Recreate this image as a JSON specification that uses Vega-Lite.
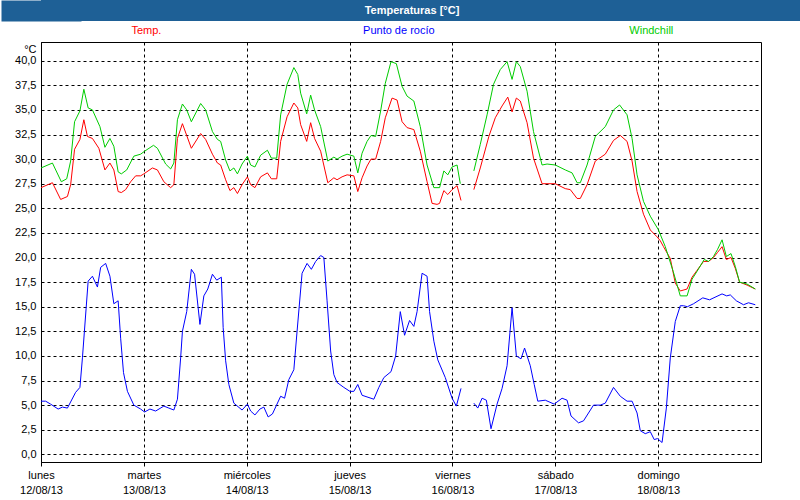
{
  "$schema": "https://vega.github.io/schema/vega-lite/v6.json",
  "padding": 0,
  "spacing": 0,
  "background": "white",
  "config": {
    "view": {"stroke": null},
    "font": "Liberation Sans",
    "concat": {"spacing": 0}
  },
  "vconcat": [
    {
      "width": 760,
      "height": 21,
      "view": {"fill": "#1e6096", "stroke": null},
      "data": {"values": [{"txt": "Temperaturas [°C]"}]},
      "mark": {"type": "text", "color": "white", "font": "Liberation Sans", "fontWeight": "bold", "fontSize": 11, "dx": -9},
      "encoding": {
        "text": {"field": "txt"},
        "y": {"datum": 0, "type": "quantitative", "scale": {"domain": [-1, 1]},
              "axis": {"title": null, "labels": false, "ticks": false, "grid": false, "domainColor": "#1e6096", "domainWidth": 80, "domainCap": "butt", "minExtent": 40, "maxExtent": 40}}
      }
    },
    {
      "width": 720,
      "height": 20,
      "data": {"values": [
        {"s": "T", "label": "Temp."},
        {"s": "R", "label": "Punto de rocío"},
        {"s": "W", "label": "Windchill"}
      ]},
      "mark": {"type": "text", "font": "Liberation Sans", "fontSize": 11},
      "encoding": {
        "x": {"field": "s", "type": "nominal", "sort": ["T", "R", "W"], "scale": {"type": "point", "padding": 0.426, "align": 0.49}, "axis": null},
        "text": {"field": "label"},
        "color": {"field": "s", "type": "nominal", "scale": {"domain": ["T", "R", "W"], "range": ["#ff0000", "#0000ff", "#00cc00"]}, "legend": null}
      }
    },
    {
      "width": 720,
      "height": 420,
      "view": {"stroke": "black", "strokeWidth": 1, "fill": "white"},
      "data": {"values": [
        {"t":"2013-08-12T00:00","s":"T","v":27.1},{"t":"2013-08-12T02:40","s":"T","v":27.6},{"t":"2013-08-12T04:35","s":"T","v":25.9},{"t":"2013-08-12T06:10","s":"T","v":26.2},{"t":"2013-08-12T06:55","s":"T","v":27.4},{"t":"2013-08-12T07:50","s":"T","v":31.0},{"t":"2013-08-12T09:05","s":"T","v":32.0},{"t":"2013-08-12T10:00","s":"T","v":34.0},{"t":"2013-08-12T10:50","s":"T","v":32.3},{"t":"2013-08-12T12:00","s":"T","v":32.1},{"t":"2013-08-12T13:30","s":"T","v":31.1},{"t":"2013-08-12T14:55","s":"T","v":28.9},{"t":"2013-08-12T16:05","s":"T","v":29.6},{"t":"2013-08-12T17:00","s":"T","v":28.9},{"t":"2013-08-12T18:00","s":"T","v":26.7},{"t":"2013-08-12T18:45","s":"T","v":26.6},{"t":"2013-08-12T19:45","s":"T","v":26.9},{"t":"2013-08-12T20:55","s":"T","v":27.7},{"t":"2013-08-12T22:05","s":"T","v":28.3},{"t":"2013-08-12T23:15","s":"T","v":28.3},
        {"t":"2013-08-13T00:00","s":"T","v":28.5},{"t":"2013-08-13T02:00","s":"T","v":29.1},{"t":"2013-08-13T03:10","s":"T","v":28.9},{"t":"2013-08-13T04:40","s":"T","v":27.7},{"t":"2013-08-13T06:15","s":"T","v":27.1},{"t":"2013-08-13T07:00","s":"T","v":27.4},{"t":"2013-08-13T07:50","s":"T","v":32.1},{"t":"2013-08-13T09:00","s":"T","v":33.6},{"t":"2013-08-13T11:05","s":"T","v":31.1},{"t":"2013-08-13T13:15","s":"T","v":32.6},{"t":"2013-08-13T14:25","s":"T","v":32.0},{"t":"2013-08-13T16:00","s":"T","v":30.5},{"t":"2013-08-13T17:10","s":"T","v":29.6},{"t":"2013-08-13T17:55","s":"T","v":29.4},{"t":"2013-08-13T19:05","s":"T","v":27.9},{"t":"2013-08-13T20:05","s":"T","v":26.8},{"t":"2013-08-13T21:00","s":"T","v":27.1},{"t":"2013-08-13T21:50","s":"T","v":26.5},{"t":"2013-08-13T22:55","s":"T","v":27.4},
        {"t":"2013-08-14T00:10","s":"T","v":28.2},{"t":"2013-08-14T00:55","s":"T","v":27.4},{"t":"2013-08-14T01:55","s":"T","v":27.1},{"t":"2013-08-14T03:15","s":"T","v":28.2},{"t":"2013-08-14T04:50","s":"T","v":28.6},{"t":"2013-08-14T05:45","s":"T","v":28.0},{"t":"2013-08-14T07:00","s":"T","v":28.0},{"t":"2013-08-14T07:55","s":"T","v":31.8},{"t":"2013-08-14T09:25","s":"T","v":34.3},{"t":"2013-08-14T11:00","s":"T","v":35.7},{"t":"2013-08-14T11:55","s":"T","v":35.2},{"t":"2013-08-14T12:35","s":"T","v":33.5},{"t":"2013-08-14T14:00","s":"T","v":31.8},{"t":"2013-08-14T14:55","s":"T","v":33.7},{"t":"2013-08-14T15:50","s":"T","v":32.1},{"t":"2013-08-14T17:15","s":"T","v":30.8},{"t":"2013-08-14T18:55","s":"T","v":27.6},{"t":"2013-08-14T20:20","s":"T","v":28.1},{"t":"2013-08-14T21:05","s":"T","v":27.9},{"t":"2013-08-14T22:15","s":"T","v":28.2},{"t":"2013-08-14T23:25","s":"T","v":28.4},
        {"t":"2013-08-15T01:00","s":"T","v":28.3},{"t":"2013-08-15T01:55","s":"T","v":26.7},{"t":"2013-08-15T02:55","s":"T","v":28.1},{"t":"2013-08-15T04:05","s":"T","v":29.3},{"t":"2013-08-15T05:00","s":"T","v":30.0},{"t":"2013-08-15T06:05","s":"T","v":30.0},{"t":"2013-08-15T07:15","s":"T","v":31.8},{"t":"2013-08-15T08:20","s":"T","v":34.2},{"t":"2013-08-15T09:55","s":"T","v":36.2},{"t":"2013-08-15T11:05","s":"T","v":36.0},{"t":"2013-08-15T12:15","s":"T","v":33.8},{"t":"2013-08-15T13:25","s":"T","v":33.2},{"t":"2013-08-15T15:00","s":"T","v":33.0},{"t":"2013-08-15T16:30","s":"T","v":30.8},{"t":"2013-08-15T18:05","s":"T","v":27.7},{"t":"2013-08-15T19:15","s":"T","v":25.5},{"t":"2013-08-15T20:25","s":"T","v":25.4},{"t":"2013-08-15T21:00","s":"T","v":25.5},{"t":"2013-08-15T22:00","s":"T","v":26.8},{"t":"2013-08-15T22:55","s":"T","v":26.4},{"t":"2013-08-15T23:55","s":"T","v":26.9},
        {"t":"2013-08-16T01:05","s":"T","v":27.3},{"t":"2013-08-16T02:00","s":"T","v":25.8},{"t":"2013-08-16T03:30","s":"T","v":null},{"t":"2013-08-16T05:00","s":"T","v":26.9},{"t":"2013-08-16T06:30","s":"T","v":29.1},{"t":"2013-08-16T08:30","s":"T","v":32.3},{"t":"2013-08-16T10:00","s":"T","v":34.2},{"t":"2013-08-16T11:35","s":"T","v":35.4},{"t":"2013-08-16T12:55","s":"T","v":36.3},{"t":"2013-08-16T13:55","s":"T","v":34.8},{"t":"2013-08-16T14:55","s":"T","v":36.2},{"t":"2013-08-16T15:50","s":"T","v":35.9},{"t":"2013-08-16T17:25","s":"T","v":33.7},{"t":"2013-08-16T18:55","s":"T","v":30.1},{"t":"2013-08-16T20:55","s":"T","v":27.5},
        {"t":"2013-08-17T00:00","s":"T","v":27.5},{"t":"2013-08-17T02:20","s":"T","v":27.0},{"t":"2013-08-17T03:30","s":"T","v":26.9},{"t":"2013-08-17T05:05","s":"T","v":26.0},{"t":"2013-08-17T05:50","s":"T","v":26.0},{"t":"2013-08-17T07:25","s":"T","v":27.4},{"t":"2013-08-17T09:20","s":"T","v":29.8},{"t":"2013-08-17T11:40","s":"T","v":30.5},{"t":"2013-08-17T13:35","s":"T","v":31.9},{"t":"2013-08-17T15:10","s":"T","v":32.4},{"t":"2013-08-17T16:45","s":"T","v":31.8},{"t":"2013-08-17T17:55","s":"T","v":29.8},{"t":"2013-08-17T19:05","s":"T","v":26.7},{"t":"2013-08-17T20:35","s":"T","v":24.4},{"t":"2013-08-17T22:10","s":"T","v":22.8},{"t":"2013-08-17T23:45","s":"T","v":22.1},
        {"t":"2013-08-18T00:30","s":"T","v":21.7},{"t":"2013-08-18T01:15","s":"T","v":21.1},{"t":"2013-08-18T02:50","s":"T","v":19.9},{"t":"2013-08-18T04:00","s":"T","v":17.4},{"t":"2013-08-18T05:10","s":"T","v":16.6},{"t":"2013-08-18T06:45","s":"T","v":16.8},{"t":"2013-08-18T07:55","s":"T","v":18.0},{"t":"2013-08-18T09:05","s":"T","v":18.7},{"t":"2013-08-18T10:35","s":"T","v":19.6},{"t":"2013-08-18T11:45","s":"T","v":19.6},{"t":"2013-08-18T12:55","s":"T","v":20.0},{"t":"2013-08-18T13:50","s":"T","v":20.5},{"t":"2013-08-18T14:55","s":"T","v":21.1},{"t":"2013-08-18T15:55","s":"T","v":19.8},{"t":"2013-08-18T17:00","s":"T","v":20.0},{"t":"2013-08-18T18:00","s":"T","v":18.9},{"t":"2013-08-18T19:00","s":"T","v":17.5},{"t":"2013-08-18T20:45","s":"T","v":17.2},{"t":"2013-08-18T22:40","s":"T","v":16.8},

        {"t":"2013-08-12T00:00","s":"W","v":29.1},{"t":"2013-08-12T02:40","s":"W","v":29.6},{"t":"2013-08-12T04:45","s":"W","v":27.7},{"t":"2013-08-12T06:00","s":"W","v":28.0},{"t":"2013-08-12T06:55","s":"W","v":29.8},{"t":"2013-08-12T07:50","s":"W","v":33.8},{"t":"2013-08-12T09:05","s":"W","v":34.9},{"t":"2013-08-12T10:00","s":"W","v":37.1},{"t":"2013-08-12T11:00","s":"W","v":35.2},{"t":"2013-08-12T12:00","s":"W","v":35.0},{"t":"2013-08-12T13:45","s":"W","v":33.3},{"t":"2013-08-12T14:55","s":"W","v":31.2},{"t":"2013-08-12T16:05","s":"W","v":32.1},{"t":"2013-08-12T17:00","s":"W","v":31.3},{"t":"2013-08-12T18:00","s":"W","v":28.7},{"t":"2013-08-12T18:45","s":"W","v":28.5},{"t":"2013-08-12T20:00","s":"W","v":28.9},{"t":"2013-08-12T21:40","s":"W","v":30.3},{"t":"2013-08-12T23:15","s":"W","v":30.5},
        {"t":"2013-08-13T00:10","s":"W","v":30.8},{"t":"2013-08-13T02:15","s":"W","v":31.4},{"t":"2013-08-13T03:10","s":"W","v":31.1},{"t":"2013-08-13T05:05","s":"W","v":29.5},{"t":"2013-08-13T06:15","s":"W","v":29.0},{"t":"2013-08-13T07:00","s":"W","v":29.6},{"t":"2013-08-13T07:50","s":"W","v":34.0},{"t":"2013-08-13T09:00","s":"W","v":35.6},{"t":"2013-08-13T10:00","s":"W","v":35.0},{"t":"2013-08-13T11:05","s":"W","v":33.8},{"t":"2013-08-13T13:15","s":"W","v":35.65},{"t":"2013-08-13T14:25","s":"W","v":35.0},{"t":"2013-08-13T16:00","s":"W","v":32.8},{"t":"2013-08-13T17:10","s":"W","v":32.0},{"t":"2013-08-13T17:55","s":"W","v":31.8},{"t":"2013-08-13T19:05","s":"W","v":29.9},{"t":"2013-08-13T20:05","s":"W","v":28.8},{"t":"2013-08-13T21:00","s":"W","v":29.1},{"t":"2013-08-13T21:50","s":"W","v":28.5},{"t":"2013-08-13T22:55","s":"W","v":29.5},
        {"t":"2013-08-14T00:10","s":"W","v":30.3},{"t":"2013-08-14T00:55","s":"W","v":29.4},{"t":"2013-08-14T01:55","s":"W","v":29.2},{"t":"2013-08-14T03:15","s":"W","v":30.4},{"t":"2013-08-14T04:50","s":"W","v":30.9},{"t":"2013-08-14T05:45","s":"W","v":30.1},{"t":"2013-08-14T07:00","s":"W","v":30.1},{"t":"2013-08-14T07:55","s":"W","v":34.5},{"t":"2013-08-14T09:25","s":"W","v":37.6},{"t":"2013-08-14T11:00","s":"W","v":39.3},{"t":"2013-08-14T11:55","s":"W","v":38.6},{"t":"2013-08-14T12:35","s":"W","v":36.7},{"t":"2013-08-14T14:00","s":"W","v":34.6},{"t":"2013-08-14T14:55","s":"W","v":36.5},{"t":"2013-08-14T15:50","s":"W","v":35.0},{"t":"2013-08-14T17:15","s":"W","v":33.3},{"t":"2013-08-14T18:55","s":"W","v":29.8},{"t":"2013-08-14T20:20","s":"W","v":30.2},{"t":"2013-08-14T21:05","s":"W","v":30.0},{"t":"2013-08-14T22:15","s":"W","v":30.3},{"t":"2013-08-14T23:25","s":"W","v":30.5},
        {"t":"2013-08-15T01:00","s":"W","v":30.3},{"t":"2013-08-15T01:55","s":"W","v":28.6},{"t":"2013-08-15T02:55","s":"W","v":30.6},{"t":"2013-08-15T04:05","s":"W","v":31.8},{"t":"2013-08-15T05:00","s":"W","v":32.4},{"t":"2013-08-15T06:05","s":"W","v":32.3},{"t":"2013-08-15T07:15","s":"W","v":34.9},{"t":"2013-08-15T08:20","s":"W","v":37.7},{"t":"2013-08-15T09:40","s":"W","v":39.9},{"t":"2013-08-15T10:55","s":"W","v":39.7},{"t":"2013-08-15T12:15","s":"W","v":37.4},{"t":"2013-08-15T13:25","s":"W","v":36.4},{"t":"2013-08-15T15:00","s":"W","v":35.9},{"t":"2013-08-15T16:30","s":"W","v":33.3},{"t":"2013-08-15T18:05","s":"W","v":29.4},{"t":"2013-08-15T19:40","s":"W","v":27.1},{"t":"2013-08-15T21:00","s":"W","v":27.1},{"t":"2013-08-15T22:00","s":"W","v":28.8},{"t":"2013-08-15T22:55","s":"W","v":28.4},{"t":"2013-08-15T23:55","s":"W","v":29.2},
        {"t":"2013-08-16T01:05","s":"W","v":29.4},{"t":"2013-08-16T01:50","s":"W","v":27.5},{"t":"2013-08-16T03:30","s":"W","v":null},{"t":"2013-08-16T05:00","s":"W","v":28.8},{"t":"2013-08-16T06:30","s":"W","v":31.5},{"t":"2013-08-16T08:05","s":"W","v":34.5},{"t":"2013-08-16T09:35","s":"W","v":37.6},{"t":"2013-08-16T11:10","s":"W","v":39.1},{"t":"2013-08-16T12:45","s":"W","v":39.9},{"t":"2013-08-16T13:55","s":"W","v":38.1},{"t":"2013-08-16T14:55","s":"W","v":39.9},{"t":"2013-08-16T15:50","s":"W","v":39.4},{"t":"2013-08-16T17:25","s":"W","v":36.9},{"t":"2013-08-16T18:55","s":"W","v":32.8},{"t":"2013-08-16T20:55","s":"W","v":29.4},{"t":"2013-08-16T22:05","s":"W","v":29.5},
        {"t":"2013-08-17T00:00","s":"W","v":29.4},{"t":"2013-08-17T02:20","s":"W","v":28.9},{"t":"2013-08-17T03:55","s":"W","v":28.6},{"t":"2013-08-17T05:05","s":"W","v":27.6},{"t":"2013-08-17T05:50","s":"W","v":27.6},{"t":"2013-08-17T07:25","s":"W","v":29.4},{"t":"2013-08-17T09:20","s":"W","v":32.3},{"t":"2013-08-17T11:40","s":"W","v":33.3},{"t":"2013-08-17T13:35","s":"W","v":35.0},{"t":"2013-08-17T15:00","s":"W","v":35.5},{"t":"2013-08-17T16:45","s":"W","v":34.5},{"t":"2013-08-17T17:55","s":"W","v":32.1},{"t":"2013-08-17T19:05","s":"W","v":28.4},{"t":"2013-08-17T20:35","s":"W","v":25.7},{"t":"2013-08-17T22:10","s":"W","v":24.2},
        {"t":"2013-08-18T00:05","s":"W","v":22.8},{"t":"2013-08-18T01:40","s":"W","v":21.1},{"t":"2013-08-18T03:30","s":"W","v":18.6},{"t":"2013-08-18T05:10","s":"W","v":16.1},{"t":"2013-08-18T06:45","s":"W","v":16.1},{"t":"2013-08-18T07:55","s":"W","v":17.8},{"t":"2013-08-18T09:05","s":"W","v":18.6},{"t":"2013-08-18T10:45","s":"W","v":19.8},{"t":"2013-08-18T11:45","s":"W","v":19.6},{"t":"2013-08-18T12:55","s":"W","v":20.1},{"t":"2013-08-18T13:50","s":"W","v":20.8},{"t":"2013-08-18T14:55","s":"W","v":21.8},{"t":"2013-08-18T15:55","s":"W","v":20.1},{"t":"2013-08-18T17:00","s":"W","v":20.4},{"t":"2013-08-18T18:00","s":"W","v":19.1},{"t":"2013-08-18T19:00","s":"W","v":17.5},{"t":"2013-08-18T20:45","s":"W","v":17.3},{"t":"2013-08-18T22:40","s":"W","v":16.8},

        {"t":"2013-08-12T00:00","s":"R","v":5.4},{"t":"2013-08-12T01:05","s":"R","v":5.4},{"t":"2013-08-12T02:15","s":"R","v":5.1},{"t":"2013-08-12T04:00","s":"R","v":4.6},{"t":"2013-08-12T05:00","s":"R","v":4.8},{"t":"2013-08-12T06:10","s":"R","v":4.7},{"t":"2013-08-12T08:05","s":"R","v":6.3},{"t":"2013-08-12T09:05","s":"R","v":6.8},{"t":"2013-08-12T09:40","s":"R","v":9.8},{"t":"2013-08-12T11:00","s":"R","v":17.6},{"t":"2013-08-12T12:00","s":"R","v":18.1},{"t":"2013-08-12T13:10","s":"R","v":17.0},{"t":"2013-08-12T13:55","s":"R","v":19.0},{"t":"2013-08-12T15:05","s":"R","v":19.4},{"t":"2013-08-12T16:05","s":"R","v":18.1},{"t":"2013-08-12T17:00","s":"R","v":15.3},{"t":"2013-08-12T18:00","s":"R","v":15.6},{"t":"2013-08-12T18:35","s":"R","v":11.8},{"t":"2013-08-12T19:15","s":"R","v":8.3},{"t":"2013-08-12T20:10","s":"R","v":6.4},{"t":"2013-08-12T21:40","s":"R","v":5.0},{"t":"2013-08-12T23:15","s":"R","v":4.6},
        {"t":"2013-08-13T00:10","s":"R","v":4.3},{"t":"2013-08-13T01:25","s":"R","v":4.6},{"t":"2013-08-13T02:45","s":"R","v":4.4},{"t":"2013-08-13T04:40","s":"R","v":4.9},{"t":"2013-08-13T05:50","s":"R","v":4.7},{"t":"2013-08-13T07:00","s":"R","v":4.5},{"t":"2013-08-13T07:50","s":"R","v":5.6},{"t":"2013-08-13T08:35","s":"R","v":9.8},{"t":"2013-08-13T09:00","s":"R","v":12.5},{"t":"2013-08-13T10:00","s":"R","v":14.5},{"t":"2013-08-13T11:05","s":"R","v":18.8},{"t":"2013-08-13T11:50","s":"R","v":18.3},{"t":"2013-08-13T13:05","s":"R","v":13.2},{"t":"2013-08-13T14:00","s":"R","v":16.1},{"t":"2013-08-13T14:55","s":"R","v":16.8},{"t":"2013-08-13T16:00","s":"R","v":18.3},{"t":"2013-08-13T17:00","s":"R","v":17.7},{"t":"2013-08-13T18:05","s":"R","v":18.0},{"t":"2013-08-13T18:30","s":"R","v":12.9},{"t":"2013-08-13T19:05","s":"R","v":9.5},{"t":"2013-08-13T19:50","s":"R","v":7.1},{"t":"2013-08-13T21:00","s":"R","v":5.2},{"t":"2013-08-13T22:55","s":"R","v":4.5},
        {"t":"2013-08-14T00:10","s":"R","v":5.1},{"t":"2013-08-14T00:55","s":"R","v":4.4},{"t":"2013-08-14T01:55","s":"R","v":4.0},{"t":"2013-08-14T03:05","s":"R","v":4.6},{"t":"2013-08-14T04:00","s":"R","v":4.8},{"t":"2013-08-14T05:00","s":"R","v":3.8},{"t":"2013-08-14T06:00","s":"R","v":4.1},{"t":"2013-08-14T07:55","s":"R","v":5.9},{"t":"2013-08-14T08:50","s":"R","v":5.7},{"t":"2013-08-14T09:50","s":"R","v":7.6},{"t":"2013-08-14T11:00","s":"R","v":8.6},{"t":"2013-08-14T11:45","s":"R","v":12.5},{"t":"2013-08-14T12:55","s":"R","v":18.4},{"t":"2013-08-14T14:05","s":"R","v":19.4},{"t":"2013-08-14T15:05","s":"R","v":18.8},{"t":"2013-08-14T16:05","s":"R","v":19.6},{"t":"2013-08-14T17:15","s":"R","v":20.2},{"t":"2013-08-14T18:00","s":"R","v":20.0},{"t":"2013-08-14T18:45","s":"R","v":15.6},{"t":"2013-08-14T19:35","s":"R","v":10.5},{"t":"2013-08-14T20:20","s":"R","v":8.1},{"t":"2013-08-14T21:05","s":"R","v":7.3},{"t":"2013-08-14T22:40","s":"R","v":6.8},
        {"t":"2013-08-15T00:05","s":"R","v":6.4},{"t":"2013-08-15T01:00","s":"R","v":6.4},{"t":"2013-08-15T01:55","s":"R","v":7.1},{"t":"2013-08-15T02:55","s":"R","v":6.0},{"t":"2013-08-15T05:40","s":"R","v":5.6},{"t":"2013-08-15T06:50","s":"R","v":6.8},{"t":"2013-08-15T08:00","s":"R","v":7.8},{"t":"2013-08-15T09:40","s":"R","v":8.4},{"t":"2013-08-15T10:45","s":"R","v":10.0},{"t":"2013-08-15T11:50","s":"R","v":14.5},{"t":"2013-08-15T12:50","s":"R","v":12.1},{"t":"2013-08-15T14:00","s":"R","v":13.6},{"t":"2013-08-15T15:00","s":"R","v":13.0},{"t":"2013-08-15T15:45","s":"R","v":14.5},{"t":"2013-08-15T16:55","s":"R","v":18.4},{"t":"2013-08-15T18:05","s":"R","v":18.1},{"t":"2013-08-15T18:40","s":"R","v":14.5},{"t":"2013-08-15T19:40","s":"R","v":11.5},{"t":"2013-08-15T20:35","s":"R","v":9.6},{"t":"2013-08-15T22:20","s":"R","v":7.8},{"t":"2013-08-15T23:55","s":"R","v":5.7},
        {"t":"2013-08-16T00:55","s":"R","v":4.9},{"t":"2013-08-16T02:00","s":"R","v":6.7},{"t":"2013-08-16T03:30","s":"R","v":null},{"t":"2013-08-16T05:00","s":"R","v":5.2},{"t":"2013-08-16T05:55","s":"R","v":4.7},{"t":"2013-08-16T06:55","s":"R","v":5.7},{"t":"2013-08-16T07:55","s":"R","v":5.5},{"t":"2013-08-16T09:00","s":"R","v":2.6},{"t":"2013-08-16T10:25","s":"R","v":5.1},{"t":"2013-08-16T11:35","s":"R","v":6.7},{"t":"2013-08-16T12:45","s":"R","v":9.0},{"t":"2013-08-16T13:55","s":"R","v":14.9},{"t":"2013-08-16T14:55","s":"R","v":10.0},{"t":"2013-08-16T16:00","s":"R","v":9.7},{"t":"2013-08-16T16:50","s":"R","v":10.8},{"t":"2013-08-16T18:10","s":"R","v":9.0},{"t":"2013-08-16T19:05","s":"R","v":7.1},{"t":"2013-08-16T19:55","s":"R","v":5.4},{"t":"2013-08-16T21:40","s":"R","v":5.5},{"t":"2013-08-16T23:45","s":"R","v":5.1},
        {"t":"2013-08-17T01:35","s":"R","v":5.7},{"t":"2013-08-17T02:45","s":"R","v":5.5},{"t":"2013-08-17T03:40","s":"R","v":3.9},{"t":"2013-08-17T05:25","s":"R","v":3.2},{"t":"2013-08-17T06:35","s":"R","v":3.4},{"t":"2013-08-17T08:55","s":"R","v":5.0},{"t":"2013-08-17T10:30","s":"R","v":5.0},{"t":"2013-08-17T11:40","s":"R","v":5.2},{"t":"2013-08-17T13:35","s":"R","v":6.8},{"t":"2013-08-17T15:10","s":"R","v":5.9},{"t":"2013-08-17T16:45","s":"R","v":5.4},{"t":"2013-08-17T17:55","s":"R","v":5.4},{"t":"2013-08-17T19:05","s":"R","v":4.2},{"t":"2013-08-17T19:50","s":"R","v":2.4},{"t":"2013-08-17T21:00","s":"R","v":2.1},{"t":"2013-08-17T22:10","s":"R","v":2.3},{"t":"2013-08-17T23:05","s":"R","v":1.5},{"t":"2013-08-17T23:50","s":"R","v":1.6},
        {"t":"2013-08-18T00:55","s":"R","v":1.2},{"t":"2013-08-18T01:55","s":"R","v":4.7},{"t":"2013-08-18T02:50","s":"R","v":9.8},{"t":"2013-08-18T04:00","s":"R","v":13.5},{"t":"2013-08-18T05:10","s":"R","v":15.1},{"t":"2013-08-18T05:55","s":"R","v":15.1},{"t":"2013-08-18T06:50","s":"R","v":15.0},{"t":"2013-08-18T08:15","s":"R","v":15.3},{"t":"2013-08-18T10:25","s":"R","v":15.9},{"t":"2013-08-18T12:00","s":"R","v":15.7},{"t":"2013-08-18T14:55","s":"R","v":16.3},{"t":"2013-08-18T16:00","s":"R","v":16.1},{"t":"2013-08-18T16:50","s":"R","v":16.2},{"t":"2013-08-18T18:15","s":"R","v":15.6},{"t":"2013-08-18T19:55","s":"R","v":15.2},{"t":"2013-08-18T21:05","s":"R","v":15.4},{"t":"2013-08-18T22:40","s":"R","v":15.2}
      ]},
      "mark": {"type": "line", "strokeWidth": 1, "invalid": "break-paths-filter-domains", "clip": true},
      "encoding": {
        "x": {
          "field": "t", "type": "temporal",
          "scale": {"domain": [{"year": 2013, "month": 8, "date": 12}, {"year": 2013, "month": 8, "date": 19}]},
          "axis": {
            "title": null,
            "values": [{"year": 2013, "month": 8, "date": 12}, {"year": 2013, "month": 8, "date": 13}, {"year": 2013, "month": 8, "date": 14}, {"year": 2013, "month": 8, "date": 15}, {"year": 2013, "month": 8, "date": 16}, {"year": 2013, "month": 8, "date": 17}, {"year": 2013, "month": 8, "date": 18}],
            "labelExpr": "[['domingo','lunes','martes','miércoles','jueves','viernes','sábado'][day(datum.value)], timeFormat(datum.value, '%d/%m/%y')]",
            "labelFont": "Liberation Sans", "labelFontSize": 11, "labelColor": "black",
            "labelLineHeight": 15, "labelPadding": 3, "labelFlush": false, "labelOverlap": false,
            "tickSize": 4, "tickColor": "black", "domainColor": "black",
            "grid": true, "gridColor": "black", "gridDash": [3, 3], "gridOpacity": 1
          }
        },
        "y": {
          "field": "v", "type": "quantitative",
          "scale": {"domain": [-0.78, 41.9], "nice": false, "zero": false},
          "axis": {
            "title": "°C", "titleAngle": 0, "titleAlign": "right", "titleBaseline": "top", "titleX": -5, "titleY": 1,
            "titleFont": "Liberation Sans", "titleFontSize": 11, "titleFontWeight": "normal", "titleColor": "black",
            "values": [0, 2.5, 5, 7.5, 10, 12.5, 15, 17.5, 20, 22.5, 25, 27.5, 30, 32.5, 35, 37.5, 40],
            "labelExpr": "replace(format(datum.value, '.1f'), '.', ',')",
            "labelFont": "Liberation Sans", "labelFontSize": 11, "labelColor": "black", "labelPadding": 5,
            "tickSize": 0, "domainColor": "black",
            "grid": true, "gridColor": "black", "gridDash": [3, 3], "gridOpacity": 1,
            "minExtent": 40, "maxExtent": 40
          }
        },
        "color": {"field": "s", "type": "nominal", "scale": {"domain": ["T", "R", "W"], "range": ["#ff0000", "#0000ff", "#00cc00"]}, "legend": null}
      }
    }
  ]
}
